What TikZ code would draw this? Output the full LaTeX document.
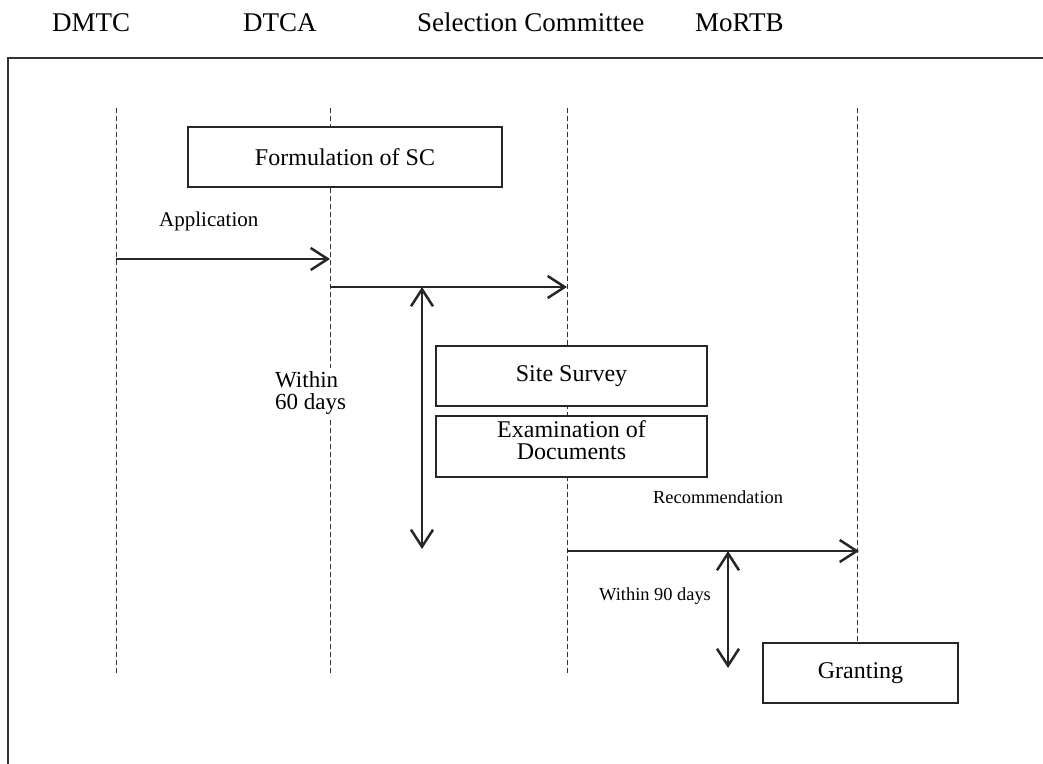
\documentclass[tikz,border=0pt]{standalone}
\usepackage{fontspec}
\setmainfont{Liberation Serif}
\usetikzlibrary{arrows.meta}
\begin{document}
\begin{tikzpicture}[x=1pt,y=-1pt,
  lifeline/.style={draw=black!80, line width=1pt, dash pattern=on 5pt off 3pt},
  stepbox/.style={draw=black!85, line width=2pt, fill=white, inner sep=0pt,
    font=\fontsize{24}{24}\selectfont},
  barb/.tip={Straight Barb[length=17pt,width=22pt]},
  msg/.style={draw=black!85, line width=2.5pt, -barb},
  span/.style={draw=black!85, line width=2.5pt, barb-barb},
  header/.style={anchor=base west, inner sep=0pt, font=\fontsize{27}{30}\selectfont},
  label/.style={anchor=base west, inner sep=0pt, font=\fontsize{21}{24}\selectfont},
  small/.style={anchor=base west, inner sep=0pt, font=\fontsize{18.4}{20}\selectfont},
]
\useasboundingbox (0,0) rectangle (1043,763);
\clip (0,0) rectangle (1043,763);

% outer frame (runs off the right and bottom of the page)
\draw[draw=black!80, line width=2.5pt] (8,58) rectangle (1070,790);

% column headings
\node[header] (hDMTC) at (52,31) {DMTC};
\node[header] (hDTCA) at (243,31) {DTCA};
\node[header] (hSC)   at (417,31) {Selection Committee};
\node[header] (hMoRTB) at (695,31) {MoRTB};

% lifelines
\foreach \n/\x in {dmtc/116, dtca/330, sc/567, mortb/857} {
  \coordinate (\n top) at (\x,108);
  \coordinate (\n bot) at (\x,676);
  \draw[lifeline] (\n top) -- (\n bot);
}

% process boxes
\node[stepbox, minimum width=314pt, minimum height=60pt] (formulation) at (345,157) {Formulation of SC};
\node[stepbox, minimum width=271pt, minimum height=60pt] (site) at (571.5,376) {Site Survey};
\node[stepbox, minimum width=271pt, minimum height=61pt] (exam) at (571.5,446.5) {};
\node[anchor=north, align=center, inner sep=0pt, font=\fontsize{24}{22}\selectfont] (examtext)
  at (exam.north) [yshift=-5pt] {Examination of\\Documents};
\node[stepbox, minimum width=195pt, minimum height=60pt] (granting) at (860.5,673) {Granting};

% messages
\coordinate (appS) at (116,259);
\coordinate (appE) at (330,259);
\draw[msg] (appS) -- (appE);
\node[label] (appl) at (159,226) {Application};

\coordinate (fwdS) at (330,287);
\coordinate (fwdE) at (567,287);
\draw[msg] (fwdS) -- (fwdE);

\coordinate (recS) at (567,551);
\coordinate (recE) at (859,551);
\draw[msg] (recS) -- (recE);
\node[small] (recl) at (653,503) {Recommendation};

% time spans
\coordinate (t60a) at (422,287);
\coordinate (t60b) at (422,549);
\draw[span] (t60a) -- (t60b);
\node[anchor=north west, align=left, fill=white, inner sep=3pt,
  font=\fontsize{23}{22}\selectfont] (t60l) at (272,368) {Within\\60 days};

\coordinate (t90a) at (728,551);
\coordinate (t90b) at (728,668);
\draw[span] (t90a) -- (t90b);
\node[small] (t90l) at (599,600) {Within 90 days};
\end{tikzpicture}
\end{document}
